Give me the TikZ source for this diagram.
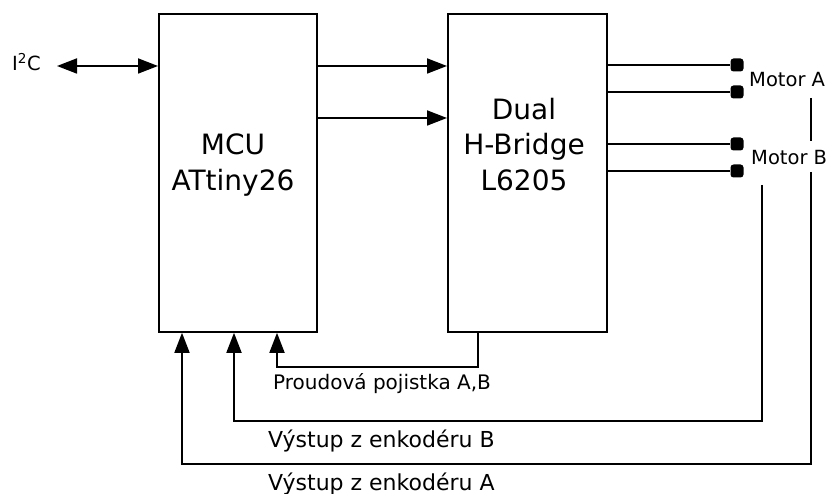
\documentclass[tikz,border=0pt]{standalone}
\usepackage{fontspec}
\setmainfont{DejaVu Sans}
\usepackage{tikz}
\usetikzlibrary{arrows.meta}

\tikzset{
  block/.style={draw, line width=1.8pt, anchor=north west, inner sep=0pt},
  bigtext/.style={font=\fontsize{28}{35}\selectfont, anchor=base, inner sep=0pt},
  lbl/.style={font=\fontsize{19.5}{22}\selectfont, anchor=base west, inner sep=0pt},
  wire/.style={line width=1.8pt},
  tip/.tip={Triangle[length=20pt,width=15pt]},
  sig/.style={wire, -tip},
  pin/.style={rectangle, rounded corners=3pt, fill, inner sep=0pt, minimum size=13pt},
}

\begin{document}
\begin{tikzpicture}[x=1pt, y=-1pt]
        \useasboundingbox (0,0) rectangle (828,494);
        % blocks
        \node[block, minimum width=158pt, minimum height=318pt] (mcu) at (158,13) {};
        \node[block, minimum width=159pt, minimum height=318pt] (hb) at (447,13) {};
        \node[bigtext] (mcuname) at (233,155) {MCU};
        \node[bigtext] (mcutype) at (233,191) {ATtiny26};
        \node[bigtext] (hbdual) at (524,120) {Dual};
        \node[bigtext] (hbname) at (524,155) {H-Bridge};
        \node[bigtext] (hbtype) at (524,191) {L6205};
        % labels
        \node[lbl] (i2c) at (12,71) {I\textsuperscript{2}C};
        \node[lbl] (mota) at (749,87) {Motor A};
        \node[lbl] (motb) at (751,165) {Motor B};
        \node[lbl, font=\fontsize{20}{22}\selectfont] (fuse) at (273,390) {Proudová pojistka A,B};
        \node[lbl, font=\fontsize{22}{24}\selectfont] (encbtext) at (268,447) {Výstup z enkodéru B};
        \node[lbl, font=\fontsize{22}{24}\selectfont] (encatext) at (268,490) {Výstup z enkodéru A};
        % motor pins
        \node[pin] (pa1) at (737,65) {};
        \node[pin] (pa2) at (737,92) {};
        \node[pin] (pb1) at (737,144) {};
        \node[pin] (pb2) at (737,171) {};
        \coordinate (i2cend) at (57,66);
        \coordinate (mottap) at (811,98);
        \coordinate (encA) at (811,172);
        \coordinate (encB) at (762,185);
        % connections
        \draw[wire, tip-tip] (i2cend) -- ([yshift=-53pt]mcu.north west);
        \draw[sig] ([yshift=-53pt]mcu.north east) -- ([yshift=-53pt]hb.north west);
        \draw[sig] ([yshift=-105pt]mcu.north east) -- ([yshift=-105pt]hb.north west);
        \draw[wire] (hb.east |- pa1) -- (pa1);
        \draw[wire] (hb.east |- pa2) -- (pa2);
        \draw[wire] (hb.east |- pb1) -- (pb1);
        \draw[wire] (hb.east |- pb2) -- (pb2);
        \draw[wire] (mottap) -- ++(0,43);
        \draw[sig] ([xshift=31pt]hb.south west) -- ++(0,34) -| ([xshift=119pt]mcu.south west);
        \draw[sig] (encB) -- ++(0,236) -| ([xshift=76pt]mcu.south west);
        \draw[sig] (encA) -- ++(0,292) -| ([xshift=24pt]mcu.south west);
\end{tikzpicture}
\end{document}
